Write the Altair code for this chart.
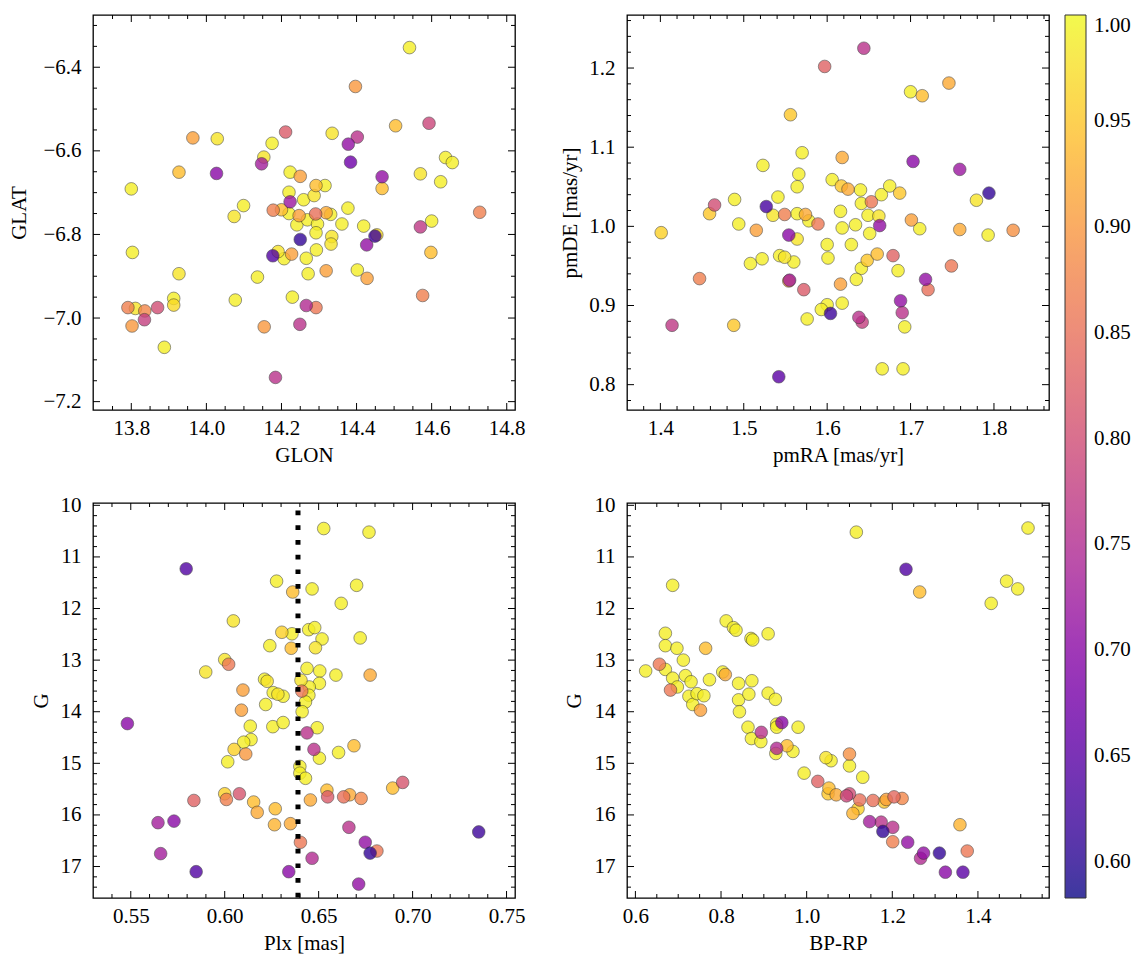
import altair as alt
import pandas as pd
import numpy as np

FONT = "'Liberation Serif', 'Times New Roman', serif"
FS = 21
W, H = 422, 395
CDOM = [0.583, 1.0]

# ---------------- Panel 1: GLON / GLAT ----------------
glon = [13.800, 13.803, 13.927, 13.927, 13.964, 14.029, 14.027, 13.913, 13.913, 13.791,
        13.811, 13.836, 13.835, 13.870, 13.802, 13.888, 14.077, 14.074, 14.099, 14.136,
        14.154, 14.184, 14.175, 14.153, 14.147, 14.211, 14.178, 14.177, 14.191, 14.207,
        14.227, 14.250, 14.229, 14.266, 14.249, 14.384, 14.468, 14.468, 14.223, 14.250,
        14.292, 14.316, 14.287, 14.220, 14.223, 14.259, 14.200, 14.220, 14.247, 14.291,
        14.319, 14.331, 14.377, 14.241, 14.269, 14.296, 14.361, 14.292, 14.419, 14.334,
        14.332, 14.454, 14.449, 14.427, 14.266, 14.293, 14.271, 14.319, 14.402, 14.428,
        14.292, 14.541, 14.397, 14.335, 14.378, 14.402, 14.504, 14.593, 14.637, 14.655,
        14.570, 14.624, 14.728, 14.600, 14.570, 14.598, 14.576]
glat = [-6.691, -6.843, -6.894, -6.651, -6.569, -6.571, -6.654, -6.953, -6.969, -6.975,
        -6.977, -6.983, -7.004, -6.975, -7.019, -7.070, -6.957, -6.757, -6.731, -6.902,
        -7.021, -7.142, -6.582, -6.615, -6.631, -6.555, -6.742, -6.851, -6.841, -6.858,
        -6.847, -6.812, -6.950, -6.970, -7.015, -6.627, -6.662, -6.690, -6.651, -6.661,
        -6.683, -6.683, -6.707, -6.699, -6.722, -6.717, -6.741, -6.750, -6.755, -6.751,
        -6.748, -6.752, -6.737, -6.777, -6.765, -6.775, -6.775, -6.796, -6.780, -6.805,
        -6.823, -6.801, -6.804, -6.825, -6.857, -6.837, -6.894, -6.887, -6.885, -6.905,
        -6.975, -6.353, -6.446, -6.558, -6.584, -6.567, -6.540, -6.534, -6.616, -6.628,
        -6.655, -6.674, -6.747, -6.768, -6.782, -6.843, -6.946]
prob1 = [0.99, 0.99, 0.98, 0.94, 0.91, 0.98, 0.70, 0.99, 0.97, 0.87,
         0.98, 0.88, 0.78, 0.80, 0.90, 0.99, 0.99, 0.98, 0.99, 0.99,
         0.90, 0.76, 0.99, 0.98, 0.73, 0.82, 0.87, 0.64, 0.98, 0.99,
         0.91, 0.61, 0.99, 0.75, 0.76, 0.67, 0.71, 0.94, 0.99, 0.91,
         0.94, 0.99, 0.98, 0.99, 0.72, 0.99, 0.94, 0.99, 0.91, 0.85,
         0.92, 0.99, 0.99, 0.99, 0.99, 0.99, 0.99, 0.99, 0.99, 0.98,
         0.98, 0.97, 0.62, 0.71, 0.99, 0.99, 0.99, 0.91, 0.99, 0.91,
         0.86, 0.99, 0.90, 0.98, 0.71, 0.76, 0.94, 0.79, 0.99, 0.99,
         0.98, 0.99, 0.87, 0.99, 0.77, 0.94, 0.87]

# ---------------- Panel 2: pmRA / pmDE ----------------
pmra = [1.401, 1.414, 1.447, 1.459, 1.465, 1.488, 1.489, 1.494, 1.508, 1.522,
        1.515, 1.523, 1.527, 1.535, 1.541, 1.543, 1.549, 1.542, 1.549, 1.554,
        1.554, 1.555, 1.556, 1.560, 1.564, 1.564, 1.566, 1.570, 1.564, 1.572,
        1.576, 1.618, 1.703, 1.606, 1.617, 1.625, 1.640, 1.665, 1.675, 1.687,
        1.641, 1.653, 1.616, 1.649, 1.662, 1.663, 1.634, 1.618, 1.651, 1.701,
        1.711, 1.574, 1.578, 1.589, 1.600, 1.629, 1.601, 1.648, 1.660, 1.641,
        1.635, 1.679, 1.685, 1.616, 1.688, 1.690, 1.618, 1.600, 1.593, 1.604,
        1.638, 1.642, 1.693, 1.644, 1.597, 1.700, 1.714, 1.746, 1.759, 1.794,
        1.779, 1.759, 1.793, 1.823, 1.749, 1.718, 1.721, 1.666, 1.691]
pmde = [0.992, 0.875, 0.934, 1.016, 1.027, 0.875, 1.034, 1.003, 0.953, 0.959,
        0.995, 1.077, 1.025, 1.014, 1.037, 0.963, 0.961, 0.810, 1.015, 0.989,
        0.931, 0.932, 1.141, 0.955, 0.984, 1.050, 1.066, 1.093, 1.016, 0.920,
        0.883, 1.087, 1.082, 1.059, 1.051, 1.047, 1.046, 1.040, 1.051, 1.042,
        1.029, 1.031, 1.019, 1.014, 1.013, 1.001, 1.002, 0.998, 0.991, 1.008,
        0.997, 1.015, 1.007, 1.003, 0.977, 0.977, 0.960, 0.957, 0.965, 0.947,
        0.933, 0.963, 0.944, 0.927, 0.906, 0.891, 0.903, 0.901, 0.895, 0.890,
        0.885, 0.879, 0.873, 1.225, 1.202, 1.170, 1.165, 1.181, 1.072, 1.042,
        1.033, 0.996, 0.989, 0.995, 0.950, 0.933, 0.920, 0.820, 0.820]
prob2 = [0.96, 0.77, 0.87, 0.95, 0.80, 0.95, 0.99, 0.99, 0.99, 0.99,
         0.91, 0.99, 0.63, 0.98, 0.99, 0.99, 0.98, 0.65, 0.87, 0.70,
         0.91, 0.73, 0.95, 0.99, 0.98, 0.99, 0.99, 0.99, 0.99, 0.82,
         0.99, 0.92, 0.70, 0.99, 0.95, 0.92, 0.99, 0.99, 0.99, 0.95,
         0.99, 0.86, 0.99, 0.99, 0.98, 0.71, 0.99, 0.99, 0.99, 0.91,
         0.99, 0.92, 0.99, 0.86, 0.99, 0.99, 0.99, 0.95, 0.94, 0.99,
         0.99, 0.83, 0.99, 0.91, 0.71, 0.76, 0.99, 0.99, 0.99, 0.62,
         0.76, 0.78, 0.99, 0.76, 0.83, 0.99, 0.94, 0.92, 0.72, 0.61,
         0.98, 0.92, 0.99, 0.89, 0.86, 0.71, 0.85, 0.99, 0.99]

# ---------------- Panel 3: Plx / G ----------------
plx = [0.5795, 0.5482, 0.6276, 0.6046, 0.6000, 0.6021, 0.5899, 0.6240, 0.6304, 0.6358,
       0.6362, 0.6354, 0.6097, 0.6212, 0.6226, 0.6258, 0.6283, 0.6311, 0.6218, 0.6089,
       0.6136, 0.6256, 0.6311, 0.6140, 0.6101, 0.6050, 0.6112, 0.6016, 0.6000, 0.6009,
       0.6078, 0.5836, 0.6154, 0.6173, 0.6269, 0.6265, 0.6350, 0.5645, 0.5730, 0.5659,
       0.5848, 0.6341, 0.6465, 0.6620, 0.6447, 0.6479, 0.6518, 0.6483, 0.6438, 0.6506,
       0.6592, 0.6406, 0.6504, 0.6450, 0.6410, 0.6448, 0.6430, 0.6412, 0.6492, 0.6438,
       0.6475, 0.6504, 0.6606, 0.6400, 0.6400, 0.6430, 0.6456, 0.6544, 0.6548, 0.6633,
       0.6403, 0.6465, 0.6527, 0.6768, 0.6702, 0.6721, 0.6774, 0.6688, 0.6894, 0.6947,
       0.6665, 0.6726, 0.6661, 0.6748, 0.6810, 0.6774, 0.7352, 0.6713]
g3 = [11.23, 14.23, 11.47, 12.24, 12.99, 13.08, 13.23, 12.72, 12.46, 12.49,
      11.68, 12.77, 13.58, 13.37, 13.41, 13.63, 13.66, 13.70, 13.86, 13.97,
      14.28, 14.29, 14.21, 14.54, 14.59, 14.73, 14.82, 14.97, 15.59, 15.70,
      15.59, 15.72, 15.75, 15.95, 15.88, 16.19, 16.17, 16.15, 16.12, 16.75,
      17.10, 17.10, 11.62, 11.90, 12.41, 12.37, 12.59, 12.76, 13.16, 13.21,
      13.29, 13.39, 13.45, 13.52, 13.60, 13.68, 13.81, 14.00, 14.31, 14.41,
      14.73, 14.90, 14.79, 15.06, 15.19, 15.29, 15.71, 15.52, 15.65, 15.65,
      16.53, 16.84, 10.45, 10.52, 11.55, 12.57, 13.29, 14.66, 15.48, 15.37,
      15.61, 15.68, 16.24, 16.53, 16.70, 16.74, 16.33, 17.34]
prob3 = [0.64, 0.70, 0.99, 0.98, 0.98, 0.86, 0.98, 0.99, 0.96, 0.99,
         0.94, 0.94, 0.91, 0.99, 0.98, 0.99, 0.98, 0.99, 0.99, 0.91,
         0.99, 0.99, 0.99, 0.99, 0.99, 0.96, 0.90, 0.99, 0.96, 0.87,
         0.81, 0.83, 0.94, 0.92, 0.94, 0.93, 0.92, 0.73, 0.70, 0.73,
         0.64, 0.70, 0.99, 0.99, 0.99, 0.99, 0.99, 0.98, 0.99, 0.99,
         0.99, 0.98, 0.99, 0.99, 0.86, 0.99, 0.99, 0.99, 0.99, 0.76,
         0.76, 0.99, 0.99, 0.99, 0.99, 0.99, 0.92, 0.94, 0.82, 0.85,
         0.86, 0.75, 0.99, 0.99, 0.99, 0.99, 0.92, 0.94, 0.94, 0.81,
         0.92, 0.88, 0.76, 0.71, 0.86, 0.61, 0.62, 0.71]
plx_ref = [0.639]

# ---------------- Panel 4: BP-RP / G ----------------
bprp = [0.687, 0.624, 0.656, 0.670, 0.670, 0.670, 0.697, 0.712, 0.687, 0.698,
        0.682, 0.717, 0.730, 0.725, 0.734, 0.744, 0.760, 0.752, 0.764, 0.773,
        0.812, 0.829, 0.835, 0.870, 0.874, 0.910, 0.804, 0.810, 0.841, 0.872,
        0.841, 0.865, 0.843, 0.910, 0.927, 0.863, 0.871, 0.893, 0.894, 0.930,
        0.930, 0.942, 0.980, 0.954, 0.968, 0.930, 0.928, 0.994,
        1.116, 1.517, 1.232, 1.264, 1.431, 1.467, 1.493, 1.045, 1.057, 1.100,
        1.100, 1.131, 1.026, 1.052, 1.050, 1.069, 1.093, 1.100, 1.124, 1.120,
        1.108, 1.155, 1.181, 1.186, 1.204, 1.223, 1.147, 1.174, 1.201, 1.178,
        1.201, 1.236, 1.273, 1.266, 1.310, 1.358, 1.375, 1.324, 1.365]
g4 = [11.55, 13.21, 13.08, 12.48, 12.72, 13.18, 12.77, 13.00, 13.35, 13.52,
      13.58, 13.30, 13.42, 13.70, 13.86, 13.65, 13.69, 13.97, 12.77, 13.38,
      12.24, 12.37, 12.42, 12.58, 12.61, 12.49, 13.23, 13.28, 13.45, 13.40,
      13.77, 13.66, 14.00, 13.64, 13.76, 14.30, 14.52, 14.58, 14.40, 14.24,
      14.30, 14.21, 14.30, 14.66, 14.77, 14.71, 14.81, 15.19,
      10.52, 10.44, 11.24, 11.68, 11.90, 11.47, 11.62, 14.89, 14.95, 14.82,
      15.05, 15.27, 15.35, 15.48, 15.59, 15.61, 15.63, 15.59, 15.71, 15.88,
      15.97, 15.72, 15.75, 15.70, 15.65, 15.68, 16.13, 16.14, 16.24, 16.32,
      16.52, 16.53, 16.74, 16.84, 16.74, 16.19, 16.70, 17.11, 17.11]
prob4 = [0.99, 0.99, 0.86, 0.99, 0.99, 0.99, 0.99, 0.99, 0.99, 0.99,
         0.86, 0.99, 0.99, 0.99, 0.99, 0.99, 0.99, 0.91, 0.94, 0.99,
         0.99, 0.99, 0.99, 0.99, 0.99, 0.99, 0.99, 0.92, 0.99, 0.99,
         0.99, 0.99, 0.99, 0.99, 0.99, 0.99, 0.99, 0.99, 0.76, 0.99,
         0.99, 0.70, 0.99, 0.94, 0.99, 0.75, 0.99, 0.99,
         0.99, 0.99, 0.64, 0.94, 0.99, 0.99, 0.99, 0.98, 0.99, 0.89,
         0.99, 0.99, 0.83, 0.94, 0.95, 0.92, 0.79, 0.80, 0.85, 0.96,
         0.93, 0.85, 0.95, 0.91, 0.84, 0.88, 0.73, 0.76, 0.76, 0.61,
         0.87, 0.71, 0.71, 0.75, 0.61, 0.93, 0.86, 0.70, 0.65]

# ---------------- tick labels ----------------
p1_xticks = [13.8, 14.0, 14.2, 14.4, 14.6, 14.8]
p1_yticks = [-7.2, -7.0, -6.8, -6.6, -6.4]
p2_xticks = [1.4, 1.5, 1.6, 1.7, 1.8]
p2_yticks = [0.8, 0.9, 1.0, 1.1, 1.2]
p3_xticks = [0.55, 0.60, 0.65, 0.70, 0.75]
g_ticks = [10, 11, 12, 13, 14, 15, 16, 17]
p4_xticks = [0.6, 0.8, 1.0, 1.2, 1.4]
cbar_ticks = [0.60, 0.65, 0.70, 0.75, 0.80, 0.85, 0.90, 0.95, 1.00]


def minor_ticks(majors, step, dom):
    lo, hi = dom
    out = []
    v = majors[0]
    while v - step > lo:
        v -= step
    while v < hi:
        r = round(v, 4)
        if all(abs(r - m) > step / 4 for m in majors) and lo + 0.004 * (hi - lo) < r < hi - 0.004 * (hi - lo):
            out.append(r)
        v += step
    return out


legend = alt.Legend(
    title=None, orient="right", offset=14, direction="vertical",
    gradientLength=883, gradientThickness=21,
    gradientStrokeColor="black", gradientStrokeWidth=1,
    values=cbar_ticks, format=".2f",
    labelFont=FONT, labelFontSize=FS, labelColor="black",
    labelOffset=8, labelBaseline="middle", padding=0,
)


def panel(xvals, yvals, pvals, xtitle, ytitle, xdom, ydom, xmaj, xstep, ymaj, ystep,
          xfmt, yfmt, ytp, yrev=False, vline=None):
    df = pd.DataFrame({"x": xvals, "y": yvals, "p": pvals})
    xs = alt.Scale(domain=xdom, nice=False, zero=False)
    ys = alt.Scale(domain=ydom, nice=False, zero=False, reverse=yrev)
    xa = alt.Axis(title=xtitle, values=xmaj, format=xfmt)
    ya = alt.Axis(title=ytitle, values=ymaj, format=yfmt, titlePadding=ytp)
    pts = alt.Chart(df).mark_circle(
        size=160, opacity=0.8, stroke="#2a2a2a", strokeWidth=0.6
    ).encode(
        x=alt.X("x:Q", scale=xs, axis=xa),
        y=alt.Y("y:Q", scale=ys, axis=ya),
        color=alt.Color("p:Q", scale=alt.Scale(scheme="plasma", domain=CDOM), legend=legend),
        order=alt.Order("p:Q", sort="descending"),
    )
    layers = [pts]
    if vline is not None:
        vl = alt.Chart(pd.DataFrame({"x": vline})).mark_rule(
            color="black", strokeWidth=5, strokeDash=[4.7, 10], strokeDashOffset=7.1
        ).encode(x=alt.X("x:Q", scale=xs, axis=xa))
        layers.append(vl)
    xmin = minor_ticks(xmaj, xstep, xdom)
    ymin = minor_ticks(ymaj, ystep, ydom)
    for vals, L in ((xmaj, 7), (xmin, 4)):
        b = alt.Chart(pd.DataFrame({"x": vals})).mark_rule(color="black", strokeWidth=1)
        layers.append(b.encode(x=alt.X("x:Q", scale=xs, axis=xa), y=alt.value(H), y2=alt.value(H - L)))
        layers.append(b.encode(x=alt.X("x:Q", scale=xs, axis=xa), y=alt.value(0), y2=alt.value(L)))
    for vals, L in ((ymaj, 7), (ymin, 4)):
        b = alt.Chart(pd.DataFrame({"y": vals})).mark_rule(color="black", strokeWidth=1)
        layers.append(b.encode(y=alt.Y("y:Q", scale=ys, axis=ya), x=alt.value(0), x2=alt.value(L)))
        layers.append(b.encode(y=alt.Y("y:Q", scale=ys, axis=ya), x=alt.value(W), x2=alt.value(W - L)))
    return alt.layer(*layers).properties(width=W, height=H)


p1 = panel(glon, glat, prob1, "GLON", "GLAT", [13.698, 14.822], [-7.220, -6.275],
           p1_xticks, 0.05, p1_yticks, 0.05, ".1f", ".1f", 13)
p2 = panel(pmra, pmde, prob2, "pmRA [mas/yr]", "pmDE [mas/yr]", [1.360, 1.866], [0.768, 1.267],
           p2_xticks, 0.02, p2_yticks, 0.02, ".1f", ".1f", 8)
p3 = panel(plx, g3, prob3, "Plx [mas]", "G", [0.5299, 0.7545], [9.955, 17.61],
           p3_xticks, 0.01, g_ticks, 0.2, ".2f", "d", 9, yrev=True, vline=plx_ref)
p4 = panel(bprp, g4, prob4, "BP-RP", "G", [0.5804, 1.566], [9.955, 17.61],
           p4_xticks, 0.05, g_ticks, 0.2, ".1f", "d", 10, yrev=True)

chart = alt.concat(
    p1, p2, p3, p4, columns=2, spacing={"row": 93, "column": 112}, bounds="flush"
).resolve_scale(
    color="shared"
).properties(
    padding={"left": 0, "top": 5, "right": 5, "bottom": 5}
).configure(
    background="white"
).configure_view(
    stroke="black", strokeWidth=1.3
).configure_axis(
    labelFont=FONT, titleFont=FONT, labelFontSize=FS, titleFontSize=FS,
    labelColor="black", titleColor="black", titleFontWeight="normal",
    ticks=False, tickSize=0, domain=False, grid=False, labelFlush=False,
    labelOverlap=False,
).configure_axisX(
    labelPadding=7.5, titlePadding=6
).configure_axisY(
    labelPadding=12
)

chart.save("out.html", embed_options={"renderer": "svg", "actions": False})
